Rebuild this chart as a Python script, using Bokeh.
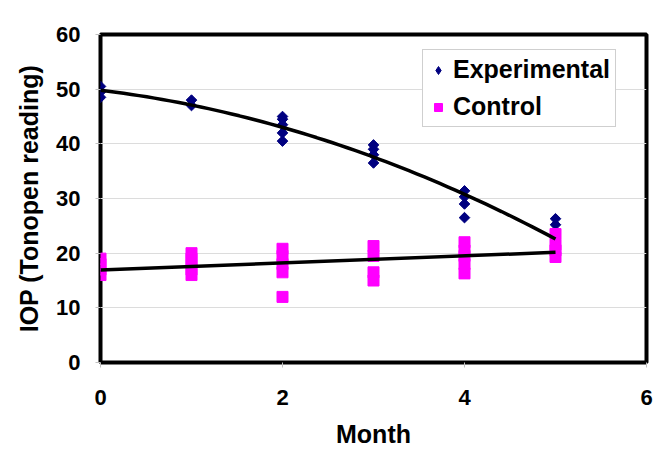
import numpy as np
from bokeh.plotting import figure
from bokeh.models import ColumnDataSource, Legend, LegendItem, FixedTicker, Range1d
from bokeh.embed import file_html
from bokeh.resources import INLINE

# Data
exp_month = [0, 0, 0, 1, 1, 2, 2, 2, 2, 2, 3, 3, 3, 3, 4, 4, 4, 4, 5, 5, 5, 5]
exp_iop = [48.5, 49.5, 50.5, 47.0, 48.0, 40.5, 42.0, 43.5, 44.5, 45.0,
           36.5, 38.0, 39.0, 39.8, 26.5, 29.0, 30.3, 31.4, 20.0, 21.5, 25.2, 26.3]
ctl_month = [0, 0, 0, 0, 1, 1, 1, 1, 1, 2, 2, 2, 2, 2, 3, 3, 3, 3, 4, 4, 4, 4, 4, 5, 5, 5, 5]
ctl_iop = [16.0, 17.0, 18.0, 19.0, 16.0, 17.0, 18.0, 19.0, 20.0,
           12.0, 16.5, 18.0, 19.5, 20.8, 15.0, 16.5, 19.5, 21.3,
           16.3, 18.0, 19.5, 20.5, 22.0, 19.3, 20.5, 21.5, 23.5]
x_ticks = [0, 2, 4, 6]
y_ticks = [0, 10, 20, 30, 40, 50, 60]

FONT = "Liberation Sans"
NAVY = "#000080"
MAGENTA = "#ff00ff"

p = figure(width=661, height=457, output_backend="svg", toolbar_location=None,
           x_range=Range1d(0, 6), y_range=Range1d(0, 60),
           min_border_left=100, min_border_right=15, min_border_top=34, min_border_bottom=95)

p.outline_line_color = "black"
p.outline_line_width = 4
p.background_fill_color = "white"
p.border_fill_color = "white"

p.xgrid.grid_line_color = None
p.ygrid.grid_line_color = "#dcdcdc"
p.ygrid.grid_line_width = 1

p.xaxis.ticker = FixedTicker(ticks=x_ticks)
p.yaxis.ticker = FixedTicker(ticks=y_ticks)
for ax in (p.xaxis, p.yaxis):
    ax.axis_line_color = None
    ax.major_tick_line_color = "#c0c0c0"
    ax.major_tick_out = 5
    ax.major_tick_in = 0
    ax.minor_tick_line_color = None
    ax.major_label_text_font = FONT
    ax.major_label_text_font_style = "bold"
    ax.major_label_text_font_size = "22px"
    ax.major_label_text_color = "black"
    ax.axis_label_text_font = FONT
    ax.axis_label_text_font_style = "bold"
    ax.axis_label_text_color = "black"
p.xaxis.axis_label_text_font_size = "25px"
p.yaxis.axis_label_text_font_size = "25px"
p.xaxis.major_label_standoff = 22
p.yaxis.major_label_standoff = 15
p.xaxis.axis_label = "Month"
p.yaxis.axis_label = "IOP (Tonopen reading)"
p.xaxis.axis_label_standoff = 12
p.yaxis.axis_label_standoff = 10

exp_src = ColumnDataSource(dict(x=exp_month, y=exp_iop))
ctl_src = ColumnDataSource(dict(x=ctl_month, y=ctl_iop))

r_exp = p.scatter("x", "y", source=exp_src, marker="square", angle=np.pi / 4,
                  size=7.5, fill_color=NAVY, line_color=NAVY)
r_ctl = p.scatter("x", "y", source=ctl_src, marker="square", size=11,
                  fill_color=MAGENTA, line_color=MAGENTA)

# legend key for the diamond symbol (a non-drawn NaN point)
key_exp = p.scatter(x=[np.nan], y=[np.nan], marker="diamond", size=10,
                    fill_color=NAVY, line_color=NAVY)

# Trend lines (fits computed from the data)
xs = np.linspace(0, 5, 60)
c2 = np.polyfit(exp_month, exp_iop, 2)
c1 = np.polyfit(ctl_month, ctl_iop, 1)
p.line(xs, np.polyval(c2, xs), line_color="black", line_width=3.5)
p.line([0, 5], np.polyval(c1, [0, 5]), line_color="black", line_width=3.5)

legend = Legend(items=[LegendItem(label="Experimental", renderers=[key_exp]),
                       LegendItem(label="Control", renderers=[r_ctl])],
                location=(322, 235))
legend.label_text_font = FONT
legend.label_text_font_style = "bold"
legend.label_text_font_size = "25px"
legend.label_text_color = "black"
legend.border_line_color = "#a0a0a0"
legend.border_line_width = 1
legend.background_fill_alpha = 1
legend.glyph_width = 20
legend.glyph_height = 28
legend.label_height = 28
legend.label_standoff = 5
legend.spacing = 8
legend.padding = 5
legend.margin = 0
p.add_layout(legend)

open("out.html", "w").write(file_html(p, INLINE))
